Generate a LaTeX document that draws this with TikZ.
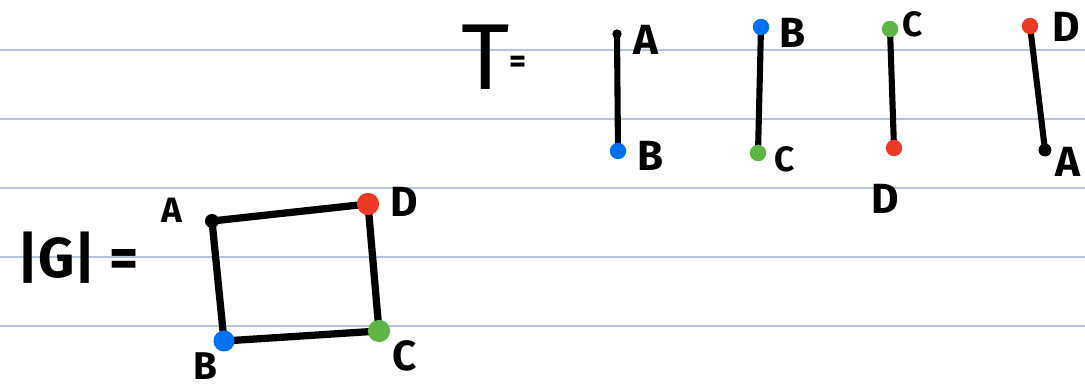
\documentclass[tikz,border=0pt]{standalone}
\usepackage{fontspec}
\setmainfont{Fira Sans}
\usetikzlibrary{backgrounds}
\definecolor{ruleblue}{RGB}{180,197,226}
\definecolor{vred}{RGB}{236,58,38}
\definecolor{vblue}{RGB}{0,112,245}
\definecolor{vgreen}{RGB}{96,180,70}
\begin{document}
\begin{tikzpicture}[x=0.03cm,y=-0.03cm,
 vertex/.style={circle,inner sep=0pt,minimum size=#1},
 vertex/.default=14pt,
 lbl/.style={font=\bfseries\fontsize{36}{36}\selectfont,inner sep=0pt},
 edge/.style={line width=5.2pt,line cap=round},
 rule/.style={ruleblue,line width=0.9pt}]

    \useasboundingbox (0,0) rectangle (1085,391);

    % the graph G
    \node[vertex=12pt,fill=black] (sqA) at (212,221) {};
    \node[vertex=19pt,fill=vred]   (sqD) at (368,204) {};
    \node[vertex=19pt,fill=vgreen] (sqC) at (379,331) {};
    \node[vertex=18pt,fill=vblue]  (sqB) at (224,341) {};

    \node[lbl,font=\bfseries\fontsize{30}{30}\selectfont] (labA) at (172,210) {A};
    \node[lbl] (labD) at (404,202) {D};
    \node[lbl,font=\bfseries\fontsize{33}{33}\selectfont] (labB) at (205,366) {B};
    \node[lbl] (labC) at (405,356) {C};
    \node[lbl,font=\bfseries\fontsize{48}{48}\selectfont] (absG) at (78,258) {|G| =};

    % the tree T
    \node[lbl,font=\fontsize{80}{80}\selectfont] (tname) at (494,57)
      {T\raisebox{14pt}{\fontsize{28}{28}\selectfont\bfseries =}};

    \node[vertex=8pt,fill=black]  (t1a) at (617,34) {};
    \node[vertex=14pt,fill=vblue] (t1b) at (618,151) {};
    \node[vertex=14pt,fill=vblue] (t2b) at (761,27) {};
    \node[vertex=14pt,fill=vgreen] (t2c) at (758,153) {};
    \node[vertex=14pt,fill=vgreen] (t3c) at (890,29) {};
    \node[vertex=14pt,fill=vred]   (t3d) at (894,148) {};
    \node[vertex=14pt,fill=vred]   (t4d) at (1030,26) {};
    \node[vertex=11pt,fill=black]  (t4a) at (1045,150) {};

    \node[lbl] (t1la) at (646,40) {A};
    \node[lbl] (t1lb) at (651,156) {B};
    \node[lbl] (t2lb) at (793,33) {B};
    \node[lbl,font=\bfseries\fontsize{30}{30}\selectfont] (t2lc) at (785,159) {C};
    \node[lbl,font=\bfseries\fontsize{30}{30}\selectfont] (t3lc) at (913,24) {C};
    \node[lbl] (t3ld) at (885,199) {D};
    \node[lbl] (t4ld) at (1066,27) {D};
    \node[lbl] (t4la) at (1068,162) {A};

    \begin{scope}[on background layer]
    \foreach \y in {50,119,188,257,326}
        \draw[rule] (0,\y) -- (1085,\y);

    \draw[edge,line width=6.2pt,line join=round] (sqA.center) -- (sqD.center)
        -- (sqC.center) -- (sqB.center) -- cycle;
    \draw[edge] (t1a.center) -- (t1b.center);
    \draw[edge] (t2b.center) -- (t2c.center);
    \draw[edge] (t3c.center) -- (t3d.center);
    \draw[edge] (t4d.center) -- (t4a.center);
    \end{scope}

\end{tikzpicture}
\end{document}
